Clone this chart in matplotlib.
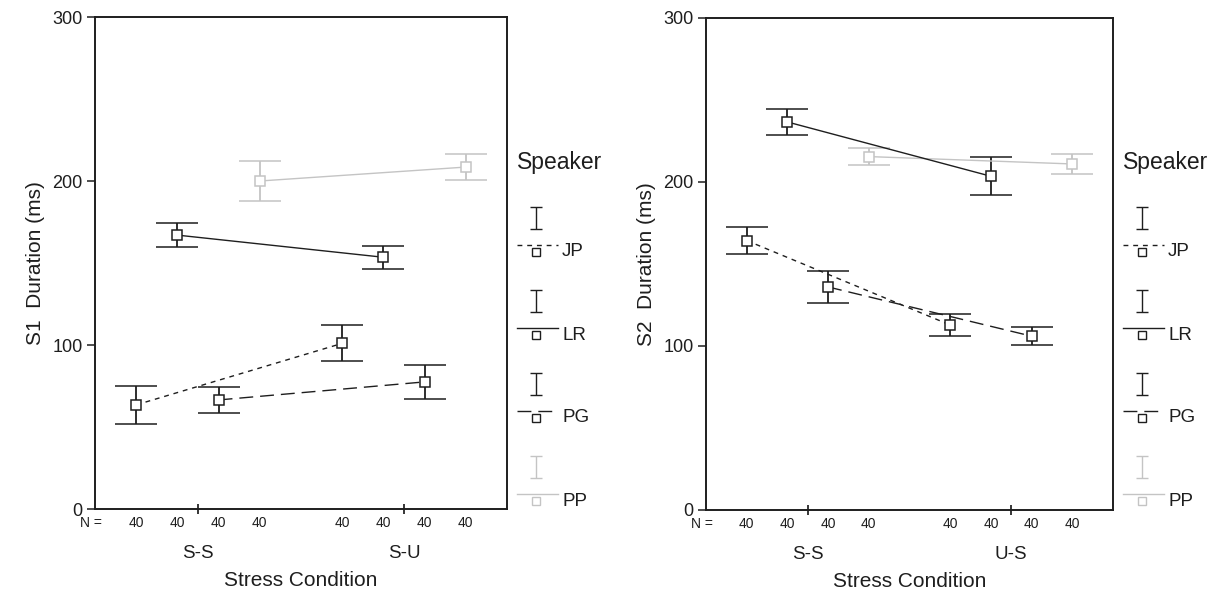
import numpy as np
import matplotlib
matplotlib.use('Agg')
import matplotlib.pyplot as plt
from matplotlib.lines import Line2D

plt.rcParams['font.family'] = ['Liberation Sans', 'DejaVu Sans']

# speakers and their styles
speakers = ['JP', 'LR', 'PG', 'PP']
n_counts = [40, 40, 40, 40]

# S1 duration (ms): mean and error half-width per speaker, per condition
s1_conditions = ['S-S', 'S-U']
s1_mean = {'JP': [63.5, 101.0], 'LR': [167.0, 153.5], 'PG': [66.5, 77.5], 'PP': [200.0, 208.5]}
s1_err = {'JP': [11.6, 11.0], 'LR': [7.5, 7.0], 'PG': [8.0, 10.5], 'PP': [12.0, 8.0]}

# S2 duration (ms)
s2_conditions = ['S-S', 'U-S']
s2_mean = {'JP': [164.3, 112.8], 'LR': [236.6, 203.5], 'PG': [136.0, 106.0], 'PP': [215.5, 211.0]}
s2_err = {'JP': [8.3, 6.5], 'LR': [7.7, 11.7], 'PG': [9.8, 5.5], 'PP': [5.0, 6.3]}

DARK = '#1e1e1e'
GRAY = '#c4c4c4'
colors = {'JP': DARK, 'LR': DARK, 'PG': DARK, 'PP': GRAY}
styles = {'JP': (0, (3.5, 3.5)), 'LR': '-', 'PG': (0, (10, 5)), 'PP': '-'}
offsets = dict(zip(speakers, np.linspace(-0.3, 0.3, len(speakers))))

W, H = 1227, 599
fig = plt.figure(figsize=(W / 100, H / 100), dpi=100)


def px_axes(x0, y0, x1, y1):
    return fig.add_axes([x0 / W, 1 - y1 / H, (x1 - x0) / W, (y1 - y0) / H])


def draw_panel(ax, conditions, mean, err, ylabel):
    xc = np.arange(len(conditions))
    # gray series first so the black ones sit on top
    for sp in ['PP', 'JP', 'LR', 'PG']:
        x = xc + offsets[sp]
        ax.errorbar(x, mean[sp], yerr=err[sp], color=colors[sp], linestyle=styles[sp],
                    linewidth=1.0, elinewidth=1.3, capsize=15, capthick=1.3,
                    marker='s', markersize=7, markerfacecolor='white',
                    markeredgecolor=colors[sp], markeredgewidth=1.1, zorder=3)
    ax.set_xlim(-0.5, len(conditions) - 0.5)
    ax.set_ylim(0, 300)
    ax.set_yticks([0, 100, 200, 300])
    ax.set_xticks(xc)
    ax.set_xticklabels(conditions, fontsize=13.5, color=DARK)
    ax.tick_params(axis='y', direction='out', length=6, width=1.1, labelsize=13,
                   colors=DARK, pad=3)
    ax.tick_params(axis='x', direction='inout', length=7, width=1.1, pad=22.5)
    for s in ax.spines.values():
        s.set_linewidth(1.4)
        s.set_color(DARK)
    ax.set_ylabel(ylabel, fontsize=15, color=DARK, labelpad=5)
    ax.set_xlabel('Stress Condition', fontsize=15, color=DARK, labelpad=6.5)

    # case counts under each point
    ax.annotate('N =', xy=(0, 0), xycoords='axes fraction', xytext=(-3, -10),
                textcoords='offset points', ha='center', va='center',
                fontsize=10, color=DARK)
    for i, sp in enumerate(speakers):
        for c in xc:
            ax.annotate(str(n_counts[i]), xy=(c + offsets[sp], 0),
                        xycoords=('data', 'axes fraction'), xytext=(0, -10),
                        textcoords='offset points', ha='center', va='center',
                        fontsize=10, color=DARK)


def draw_key(x0):
    # legend column to the right of a panel, pixel coordinates
    lax = px_axes(x0, 140, x0 + 115, 520)
    lax.set_xlim(x0, x0 + 115)
    lax.set_ylim(520, 140)
    lax.axis('off')
    lax.text(x0 + 7, 163, 'Speaker', fontsize=16.5, color=DARK, va='center', ha='left')
    xm = x0 + 26
    for i, sp in enumerate(speakers):
        row = 252 + 83 * i
        c = colors[sp]
        lax.errorbar([xm], [row - 34], yerr=[11], color=c, elinewidth=1.0,
                     capsize=4, capthick=1.0, linestyle='none')
        lax.add_line(Line2D([x0 + 7, x0 + 48], [row - 7, row - 7], color=c,
                            linestyle=styles[sp], linewidth=1.0))
        lax.plot([xm], [row], marker='s', markersize=6, markerfacecolor='white',
                 markeredgecolor=c, markeredgewidth=1.0, linestyle='none')
        lax.text(x0 + 52, row, sp, fontsize=13.5, color=DARK, va='center', ha='left')


ax1 = px_axes(95, 17, 507, 509)
draw_panel(ax1, s1_conditions, s1_mean, s1_err, 'S1  Duration (ms)')
draw_key(510)

ax2 = px_axes(706, 18, 1113, 510)
draw_panel(ax2, s2_conditions, s2_mean, s2_err, 'S2  Duration (ms)')
draw_key(1116)

fig.savefig('out.png', dpi=100)
